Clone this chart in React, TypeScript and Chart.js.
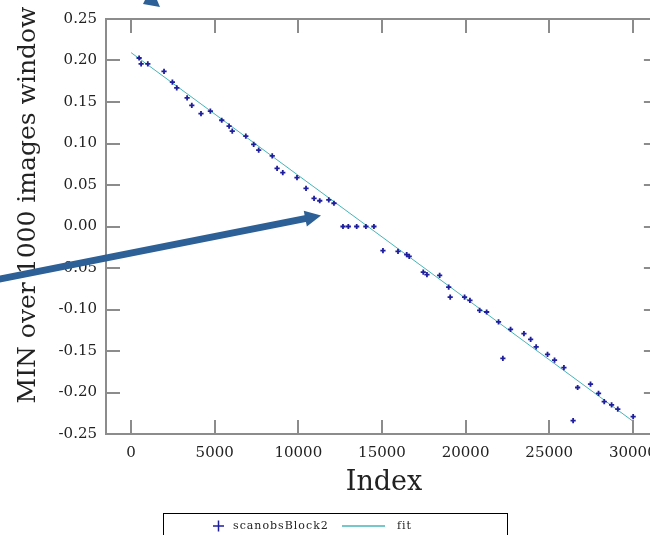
import React, { useEffect, useRef } from "react";
import { Chart, registerables } from "chart.js";

Chart.register(...registerables);

// ---- data ----
const indexValues = [
  480, 600, 1000, 1970, 2470, 2730, 3350, 3630, 4180, 4740,
  5420, 5860, 6050, 6860, 7330, 7630, 8440, 8730, 9070, 9920,
  10460, 10940, 11280, 11820, 12130, 12670, 12990, 13490, 14040, 14520,
  15060, 15960, 16480, 16630, 17470, 17690, 18450, 18990, 19080, 19940,
  20260, 20840, 21260, 21970, 22230, 22690, 23490, 23890, 24220, 24900,
  25320, 25880, 26430, 26700, 27470, 27950, 28290, 28730, 29100, 30020,
];
const minValues = [
  0.203, 0.196, 0.196, 0.187, 0.174, 0.167, 0.155, 0.146, 0.136, 0.139,
  0.128, 0.121, 0.115, 0.109, 0.099, 0.092, 0.085, 0.07, 0.065, 0.059,
  0.046, 0.034, 0.031, 0.032, 0.028, 0, 0, 0, 0, 0,
  -0.029, -0.03, -0.034, -0.036, -0.055, -0.058, -0.059, -0.073, -0.085, -0.085,
  -0.089, -0.101, -0.103, -0.115, -0.159, -0.124, -0.129, -0.136, -0.145, -0.154,
  -0.161, -0.17, -0.234, -0.194, -0.19, -0.201, -0.211, -0.215, -0.22, -0.229,
];
const fitIndex = [0, 30000];
const fitValues = [0.2095, -0.2345];

const xTickValues = [0, 5000, 10000, 15000, 20000, 25000, 30000];
const yTickValues = [0.25, 0.2, 0.15, 0.1, 0.05, 0, -0.05, -0.1, -0.15, -0.2, -0.25];

const seriesLabel = "scanobsBlock2";
const fitLabel = "fit";
const xTitle = "Index";
const yTitle = "MIN over 1000 images window";

// axis ranges
const X_MIN = -1500;
const X_FRAME_MAX = 31500;
const X_VIEW_MAX = 30680;
const Y_MIN = -0.25;
const Y_MAX = 0.25;

// ---- styles ----
const POINT_COLOR = "#1f1f9e";
const FIT_COLOR = "#46b4b8";
const AXIS_GREY = "#8c8c8c";
const TEXT_COLOR = "#222222";
const ARROW_COLOR = "#2c6096";
const SERIF = "'DejaVu Serif', serif";

function drawArrow(ctx: CanvasRenderingContext2D, x0: number, y0: number, x1: number, y1: number, headLen: number, headHalf: number, width: number) {
  const dx = x1 - x0;
  const dy = y1 - y0;
  const len = Math.hypot(dx, dy);
  const ux = dx / len;
  const uy = dy / len;
  const bx = x1 - ux * headLen;
  const by = y1 - uy * headLen;
  ctx.strokeStyle = ARROW_COLOR;
  ctx.fillStyle = ARROW_COLOR;
  ctx.lineWidth = width;
  ctx.lineCap = "butt";
  ctx.beginPath();
  ctx.moveTo(x0, y0);
  ctx.lineTo(bx + ux * 1, by + uy * 1);
  ctx.stroke();
  ctx.beginPath();
  ctx.moveTo(x1, y1);
  ctx.lineTo(bx - uy * headHalf, by + ux * headHalf);
  ctx.lineTo(bx + uy * headHalf, by - ux * headHalf);
  ctx.closePath();
  ctx.fill();
}

const decorPlugin = {
  id: "decor",
  afterDraw(chart: any) {
    const { ctx, chartArea, scales } = chart;
    const xs = scales.x;
    const ys = scales.y;
    const L = chartArea.left;
    const T = chartArea.top;
    const B = chartArea.bottom;
    const R = xs.getPixelForValue(X_FRAME_MAX);
    const tick = 14;
    ctx.save();
    ctx.strokeStyle = AXIS_GREY;
    ctx.lineWidth = 2;
    ctx.beginPath();
    ctx.moveTo(L - 1, T);
    ctx.lineTo(R, T);
    ctx.moveTo(R, T);
    ctx.lineTo(R, B);
    ctx.moveTo(chartArea.right - 1, B);
    ctx.lineTo(R, B);
    ctx.stroke();
    ctx.beginPath();
    for (const v of xTickValues) {
      const px = Math.round(xs.getPixelForValue(v));
      ctx.moveTo(px, B);
      ctx.lineTo(px, B - tick);
      ctx.moveTo(px, T);
      ctx.lineTo(px, T + tick);
    }
    for (const v of yTickValues) {
      const py = Math.round(ys.getPixelForValue(v));
      ctx.moveTo(L, py);
      ctx.lineTo(L + tick, py);
      ctx.moveTo(R, py);
      ctx.lineTo(R - tick, py);
    }
    ctx.stroke();

    // titles
    ctx.fillStyle = TEXT_COLOR;
    ctx.font = `27px ${SERIF}`;
    ctx.textAlign = "center";
    ctx.textBaseline = "middle";
    ctx.fillText(xTitle, 384, 483);

    ctx.save();
    ctx.translate(35, 205);
    ctx.rotate(-Math.PI / 2);
    ctx.font = `25px ${SERIF}`;
    ctx.textBaseline = "alphabetic";
    ctx.fillText(yTitle, 0, 0);
    ctx.restore();

    // legend
    ctx.strokeStyle = "#000";
    ctx.lineWidth = 1;
    ctx.strokeRect(163.5, 513.5, 344, 40);
    const ly = 526;
    ctx.strokeStyle = POINT_COLOR;
    ctx.lineWidth = 1.5;
    ctx.beginPath();
    ctx.moveTo(213, ly);
    ctx.lineTo(224, ly);
    ctx.moveTo(218.5, ly - 5.5);
    ctx.lineTo(218.5, ly + 5.5);
    ctx.stroke();
    ctx.strokeStyle = FIT_COLOR;
    ctx.beginPath();
    ctx.moveTo(342, ly);
    ctx.lineTo(385, ly);
    ctx.stroke();
    ctx.fillStyle = TEXT_COLOR;
    ctx.font = `11px ${SERIF}`;
    (ctx as any).letterSpacing = "1px";
    ctx.textAlign = "left";
    ctx.textBaseline = "middle";
    ctx.fillText(seriesLabel, 233, ly);
    ctx.fillText(fitLabel, 397, ly);
    (ctx as any).letterSpacing = "0px";

    // annotation arrows
    drawArrow(ctx, -10, 281, 321, 215.5, 16, 8, 7);
    ctx.fillStyle = ARROW_COLOR;
    ctx.beginPath();
    ctx.moveTo(145, 0);
    ctx.lineTo(157, 0);
    ctx.lineTo(160, 7);
    ctx.lineTo(143, 4);
    ctx.closePath();
    ctx.fill();
    ctx.restore();
  },
};

export default function App() {
  const canvasRef = useRef<HTMLCanvasElement | null>(null);

  useEffect(() => {
    const canvas = canvasRef.current;
    if (!canvas) return;
    const points = indexValues.map((x, i) => ({ x, y: minValues[i] }));
    const fit = fitIndex.map((x, i) => ({ x, y: fitValues[i] }));
    const chart = new Chart(canvas, {
      type: "scatter",
      data: {
        datasets: [
          {
            label: seriesLabel,
            data: points,
            pointStyle: "cross",
            pointRadius: 2.6,
            pointBorderWidth: 1.8,
            borderColor: POINT_COLOR,
            backgroundColor: POINT_COLOR,
            showLine: false,
            clip: false,
          },
          {
            label: fitLabel,
            data: fit,
            showLine: true,
            borderColor: FIT_COLOR,
            borderWidth: 1,
            pointRadius: 0,
            clip: false,
          },
        ],
      },
      options: {
        responsive: false,
        maintainAspectRatio: false,
        animation: false,
        layout: { padding: { top: 19, left: 0, right: 0, bottom: 0 } },
        plugins: {
          legend: { display: false },
          tooltip: { enabled: false },
        },
        scales: {
          x: {
            type: "linear",
            min: X_MIN,
            max: X_VIEW_MAX,
            grid: { display: false, drawTicks: false },
            border: { display: true, color: AXIS_GREY, width: 2 },
            afterBuildTicks: (scale: any) => {
              scale.ticks = xTickValues.map((value) => ({ value }));
            },
            afterFit: (scale: any) => {
              scale.height = 101;
              scale.paddingLeft = 0;
              scale.paddingRight = 0;
            },
            ticks: {
              padding: 10,
              color: TEXT_COLOR,
              font: { family: SERIF, size: 15 },
              maxRotation: 0,
              autoSkip: false,
              callback: (v: any) => String(v),
            },
          },
          y: {
            type: "linear",
            min: Y_MIN,
            max: Y_MAX,
            grid: { display: false, drawTicks: false },
            border: { display: true, color: AXIS_GREY, width: 2 },
            afterBuildTicks: (scale: any) => {
              scale.ticks = yTickValues.map((value) => ({ value }));
            },
            afterFit: (scale: any) => {
              scale.width = 106;
              scale.paddingTop = 0;
              scale.paddingBottom = 0;
            },
            ticks: {
              padding: 9,
              color: TEXT_COLOR,
              font: { family: SERIF, size: 15 },
              autoSkip: false,
              callback: (v: any) => {
                const n = Number(v);
                return Math.abs(n) < 1e-9 ? "0.00" : n.toFixed(2);
              },
            },
          },
        },
      },
      plugins: [decorPlugin],
    } as any);
    return () => chart.destroy();
  }, []);

  return (
    <div style={{ position: "fixed", left: 0, top: 0, width: 650, height: 535, background: "#fff", overflow: "hidden" }}>
      <canvas ref={canvasRef} width={650} height={535} style={{ display: "block" }} />
    </div>
  );
}
